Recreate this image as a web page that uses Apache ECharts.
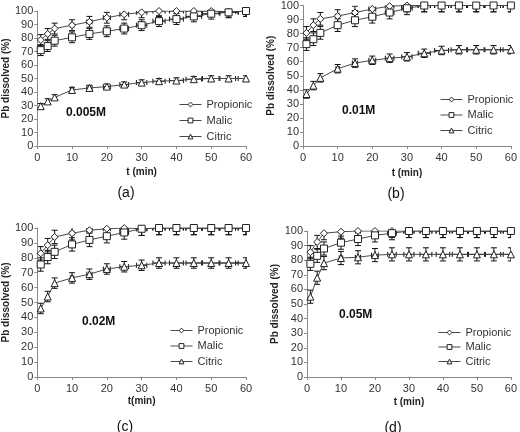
<!DOCTYPE html>
<html><head><meta charset="utf-8">
<script src="https://cdn.jsdelivr.net/npm/echarts@6/dist/echarts.min.js"></script>
<style>html,body{margin:0;padding:0;background:#fff}#c{width:520px;height:432px}</style>
</head><body><div id="c"></div>
<script>
const times = [1,3,5,10,15,20,25,30,35,40,45,50,55,60];
const seriesNames = ['Propionic','Malic','Citric'];
const panelLabels = ['(a)','(b)','(c)','(d)'];
const concLabels = ['0.005M','0.01M','0.02M','0.05M'];
const xTitles = ['t (min)','t (min)','t(min)','t (min)'];

// (a) 0.005M
const propA = [78.5,83,87,89.5,92,95,97.5,99,100,100,100,100,99.5,100];
const malA  = [71,74,78,80.5,83,85,87,89.5,92.5,94,96,98,99,100];
const citA  = [29.5,33,36,41.5,43,44,45.5,47,48,48.5,49.5,50,50,50];
// (b) 0.01M
const propB = [80.5,86,90.5,92.5,95,97.5,99.5,100,100,100,100,100,100,100];
const malB  = [72.5,76,80.5,86,89.5,92,95,98,100,100,100,100,100,100];
const citB  = [37,43,48.5,55,59,61,62.5,63.5,66,68,68.5,68.5,68.5,68.5];
// (c) 0.02M
const propC = [83,88.5,94,96.5,98.5,99.5,100,99.5,100,100,100,100,100,100];
const malC  = [75.5,80.5,84,89,92,94.5,97,99.5,100,100,100,100,100,100];
const citC  = [46,54,63,66.5,69,72.5,74,75,76.5,76.5,76.5,76.5,76.5,76.5];
// (d) 0.05M
const propD = [85.5,92.5,98.5,99.5,100,100,100,100,100,100,100,100,100,100];
const malD  = [77.5,83,88,92,94.5,97,98.5,100,100,100,100,100,100,100];
const citD  = [55,68,78,81.5,82,83.5,84,84,84,84,84,84,84,84];

// y error (±) per series
const errA = [4,4,2];
const errB = [4.5,4.5,3];
const errC = [4.5,4.5,3.5];
const errD = [4.5,4.5,4.5];
// x error (±, minutes) per time point
const xErrs = [0,0,0,0.5,0.75,1,1.25,1.5,1.75,2,2.25,2.5,2.75,3];

const panels = [
  {data:[propA,malA,citA], err:errA},
  {data:[propB,malB,citB], err:errB},
  {data:[propC,malC,citC], err:errC},
  {data:[propD,malD,citD], err:errD}
];

// layout
const grids = [
  {left:34, top:11, width:212, height:135},
  {left:303, top:5, width:211, height:141},
  {left:33, top:228, width:213, height:149},
  {left:307, top:231, width:207, height:146}
];
const yNameGap = [23,25,22,27];
const xNameGap = [21,22,19,20];
const legendPos = [{left:174,top:94},{left:435,top:89},{left:165,top:320},{left:433,top:322}];
const legendGap = [5,4.5,4.5,3.5];
const concPos = [[66,114],[342,112],[82,323],[339,316]];
const panelPos = [[126,193],[396,194],[125,427],[393,428]];

const symbols = ['diamond','rect','triangle'];
const symSizes = [7,7,7];
const font = 'Liberation Sans, Arial, sans-serif';
const lineColor = '#4a4a4a';
const axisColor = '#8a8a8a';

function errRender(params, api){
  const x = api.value(0), y = api.value(1), e = api.value(2), xe = api.value(3);
  const t = api.coord([x, y+e]), b = api.coord([x, y-e]);
  const cw = 3, ch = 2.5;
  const st = {stroke:'#111', lineWidth:1};
  const ch_ = [
    {type:'line', shape:{x1:t[0],y1:t[1],x2:b[0],y2:b[1]}, style:st},
    {type:'line', shape:{x1:t[0]-cw,y1:t[1],x2:t[0]+cw,y2:t[1]}, style:st},
    {type:'line', shape:{x1:b[0]-cw,y1:b[1],x2:b[0]+cw,y2:b[1]}, style:st}
  ];
  if (xe > 0) {
    const l = api.coord([x-xe, y]), r = api.coord([x+xe, y]);
    ch_.push({type:'line', shape:{x1:l[0],y1:l[1],x2:r[0],y2:r[1]}, style:st});
    ch_.push({type:'line', shape:{x1:l[0],y1:l[1]-ch,x2:l[0],y2:l[1]+ch}, style:st});
    ch_.push({type:'line', shape:{x1:r[0],y1:r[1]-ch,x2:r[0],y2:r[1]+ch}, style:st});
  }
  return {type:'group', children:ch_};
}

const xAxis = [], yAxis = [], series = [], legend = [], graphic = [];
panels.forEach((p, i) => {
  xAxis.push({
    gridIndex:i, type:'value', min:0, max:60, interval:10,
    name:xTitles[i], nameLocation:'middle', nameGap:xNameGap[i],
    nameTextStyle:{fontFamily:font, fontWeight:'bold', fontSize:10, color:'#222'},
    axisLine:{lineStyle:{color:axisColor}}, axisTick:{length:3, lineStyle:{color:axisColor}},
    axisLabel:{margin:6, fontFamily:font, fontSize:11, color:'#333'},
    splitLine:{show:false}
  });
  yAxis.push({
    gridIndex:i, type:'value', min:0, max:100, interval:10,
    name:'Pb dissolved (%)', nameLocation:'middle', nameGap:yNameGap[i],
    nameTextStyle:{fontFamily:font, fontWeight:'bold', fontSize:10, color:'#222'},
    axisLine:{show:true, lineStyle:{color:axisColor}}, axisTick:{show:true, length:3, lineStyle:{color:axisColor}},
    axisLabel:{margin:4, fontFamily:font, fontSize:11, color:'#333'},
    splitLine:{show:false}
  });
  p.data.forEach((vals, k) => {
    series.push({
      type:'line', name:seriesNames[k], xAxisIndex:i, yAxisIndex:i, z:3,
      data: times.map((t, j) => [t, vals[j]]),
      symbol:symbols[k], symbolSize:symSizes[k],
      lineStyle:{color:lineColor, width:1},
      itemStyle:{color:'#fff', borderColor:'#222', borderWidth:1},
      animation:false
    });
    series.push({
      type:'custom', xAxisIndex:i, yAxisIndex:i, z:2, clip:true,
      renderItem:errRender,
      data: times.map((t, j) => [t, vals[j], p.err[k], xErrs[j]]),
      animation:false, silent:true
    });
  });
  legend.push({
    orient:'vertical', left:legendPos[i].left, top:legendPos[i].top,
    itemWidth:22, itemHeight:6, itemGap:legendGap[i],
    data:seriesNames, selectedMode:false,
    itemStyle:{color:'#fff', borderColor:'#222', borderWidth:1},
    lineStyle:{color:lineColor, width:1},
    textStyle:{fontFamily:font, fontSize:11, color:'#333'}
  });
  graphic.push({type:'text', left:concPos[i][0], top:concPos[i][1]-7,
    style:{text:concLabels[i], font:'bold 12px ' + font, fill:'#111'}});
  graphic.push({type:'text', x:panelPos[i][0], y:panelPos[i][1],
    style:{text:panelLabels[i], font:'14px ' + font, fill:'#111', textAlign:'center', textVerticalAlign:'middle'}});
});

const chart = echarts.init(document.getElementById('c'), null, {renderer:'canvas'});
chart.setOption({
  animation:false,
  backgroundColor:'#fff',
  grid:grids, xAxis, yAxis, series, legend, graphic
});
</script></body></html>
